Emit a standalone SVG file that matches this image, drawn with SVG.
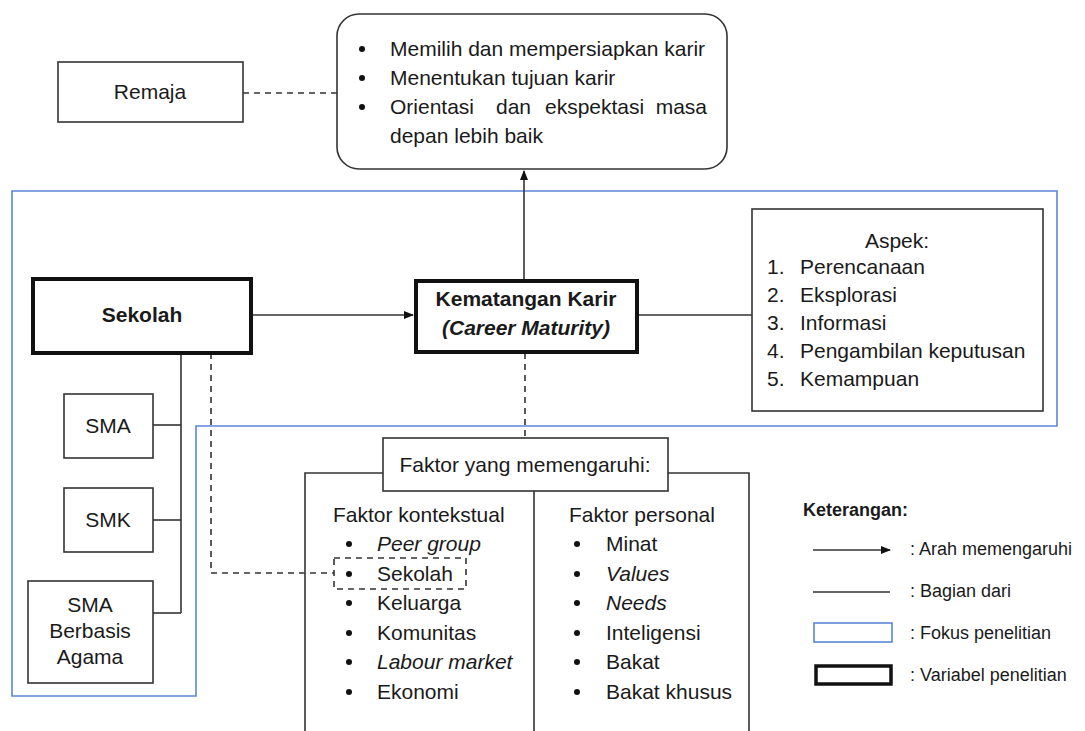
<svg xmlns="http://www.w3.org/2000/svg" width="1085" height="731" viewBox="0 0 1085 731">
<style>
text{font-family:"Liberation Sans",Arial,sans-serif;font-size:21px;fill:#1a1a1a}
.b{font-weight:bold}
.i{font-style:italic}
.m{text-anchor:middle}
.lg{font-size:18px}
.box{fill:#fff;stroke:#333;stroke-width:1.6}
.thick{fill:#fff;stroke:#111;stroke-width:4}
.ln{fill:none;stroke:#333;stroke-width:1.6}
.dash{fill:none;stroke:#333;stroke-width:1.6;stroke-dasharray:6 5}
.blue{fill:none;stroke:#5b86d6;stroke-width:1.6}
</style>
<defs>
<marker id="ah" viewBox="0 0 10 10" refX="9" refY="5" markerWidth="10" markerHeight="10" markerUnits="userSpaceOnUse" orient="auto">
<path d="M0,1 L10,5 L0,9 z" fill="#111"/>
</marker>
</defs>
<rect width="1085" height="731" fill="#fff"/>

<g id="focus">
<path class="blue" d="M12,191 H1057 V426 H196 V696 H12 Z"/>
</g>

<g id="connectors">
<line class="dash" x1="243" y1="93" x2="337" y2="93"/>
<line class="ln" x1="524" y1="282" x2="524" y2="171" marker-end="url(#ah)"/>
<line class="ln" x1="251" y1="315" x2="413" y2="315" marker-end="url(#ah)"/>
<line class="ln" x1="637" y1="315" x2="752" y2="315"/>
<line class="dash" x1="525" y1="353" x2="525" y2="438"/>
<polyline class="ln" points="181,353 181,613"/>
<line class="ln" x1="153" y1="425" x2="181" y2="425"/>
<line class="ln" x1="153" y1="520" x2="181" y2="520"/>
<line class="ln" x1="153" y1="613" x2="181" y2="613"/>
<polyline class="dash" points="211,353 211,573 334,573"/>
</g>

<g id="outcome">
<rect class="box" x="337" y="14" width="390" height="155" rx="22"/>
<circle cx="362" cy="49" r="3" fill="#111"/>
<circle cx="362" cy="78" r="3" fill="#111"/>
<circle cx="362" cy="107" r="3" fill="#111"/>
<text x="390" y="56">Memilih dan mempersiapkan karir</text>
<text x="390" y="85">Menentukan tujuan karir</text>
<text x="390" y="114">Orientasi</text>
<text x="496" y="114">dan</text>
<text x="545" y="114">ekspektasi</text>
<text x="707" y="114" text-anchor="end">masa</text>
<text x="390" y="143">depan lebih baik</text>
</g>

<g id="remaja">
<rect class="box" x="58" y="62" width="185" height="60"/>
<text class="m" x="150" y="99">Remaja</text>
</g>

<g id="sekolah">
<rect class="thick" x="33" y="279" width="218" height="74"/>
<text class="b m" x="142" y="322">Sekolah</text>
</g>

<g id="kematangan">
<rect class="thick" x="416" y="281" width="221" height="71"/>
<text class="b m" x="526" y="306">Kematangan Karir</text>
<text class="b i m" x="526" y="335">(Career Maturity)</text>
</g>

<g id="aspek">
<rect class="box" x="752" y="209" width="291" height="202"/>
<text class="m" x="897" y="248">Aspek:</text>
<text x="767" y="274">1.</text><text x="800" y="274">Perencanaan</text>
<text x="767" y="302">2.</text><text x="800" y="302">Eksplorasi</text>
<text x="767" y="330">3.</text><text x="800" y="330">Informasi</text>
<text x="767" y="358">4.</text><text x="800" y="358">Pengambilan keputusan</text>
<text x="767" y="386">5.</text><text x="800" y="386">Kemampuan</text>
</g>

<g id="sma">
<rect class="box" x="64" y="394" width="89" height="64"/>
<text class="m" x="108" y="433">SMA</text>
</g>
<g id="smk">
<rect class="box" x="64" y="488" width="89" height="64"/>
<text class="m" x="108" y="527">SMK</text>
</g>
<g id="sma-agama">
<rect class="box" x="28" y="581" width="125" height="102"/>
<text class="m" x="90" y="612">SMA</text>
<text class="m" x="90" y="638">Berbasis</text>
<text class="m" x="90" y="664">Agama</text>
</g>

<g id="faktor">
<polyline class="ln" points="305,731 305,473 383,473"/>
<polyline class="ln" points="668,473 749,473 749,731"/>
<line class="ln" x1="534" y1="491" x2="534" y2="731"/>
<rect class="box" x="383" y="438" width="285" height="53"/>
<text class="m" x="525" y="472">Faktor yang memengaruhi:</text>
<text x="333" y="522">Faktor kontekstual</text>
<g fill="#111">
<circle cx="349" cy="544" r="3"/><circle cx="349" cy="574" r="3"/><circle cx="349" cy="603" r="3"/>
<circle cx="349" cy="633" r="3"/><circle cx="349" cy="662" r="3"/><circle cx="349" cy="692" r="3"/>
<circle cx="577" cy="544" r="3"/><circle cx="577" cy="574" r="3"/><circle cx="577" cy="603" r="3"/>
<circle cx="577" cy="633" r="3"/><circle cx="577" cy="662" r="3"/><circle cx="577" cy="692" r="3"/>
</g>
<text class="i" x="377" y="551">Peer group</text>
<text x="377" y="581">Sekolah</text>
<text x="377" y="610">Keluarga</text>
<text x="377" y="640">Komunitas</text>
<text class="i" x="377" y="669">Labour market</text>
<text x="377" y="699">Ekonomi</text>
<rect class="dash" x="334" y="558" width="132" height="31"/>
<text x="569" y="522">Faktor personal</text>
<text x="606" y="551">Minat</text>
<text class="i" x="606" y="581">Values</text>
<text class="i" x="606" y="610">Needs</text>
<text x="606" y="640">Inteligensi</text>
<text x="606" y="669">Bakat</text>
<text x="606" y="699">Bakat khusus</text>
</g>

<g id="legend">
<text class="b lg" x="803" y="516">Keterangan:</text>
<line class="ln" x1="813" y1="550" x2="890" y2="550" marker-end="url(#ah)"/>
<text class="lg" x="910" y="555">: Arah memengaruhi</text>
<line class="ln" x1="813" y1="592" x2="890" y2="592"/>
<text class="lg" x="910" y="597">: Bagian dari</text>
<rect class="blue" x="814" y="623" width="78" height="19"/>
<text class="lg" x="910" y="639">: Fokus penelitian</text>
<rect fill="#fff" stroke="#111" stroke-width="3.5" x="816" y="666" width="75" height="18"/>
<text class="lg" x="910" y="681">: Variabel penelitian</text>
</g>
</svg>
